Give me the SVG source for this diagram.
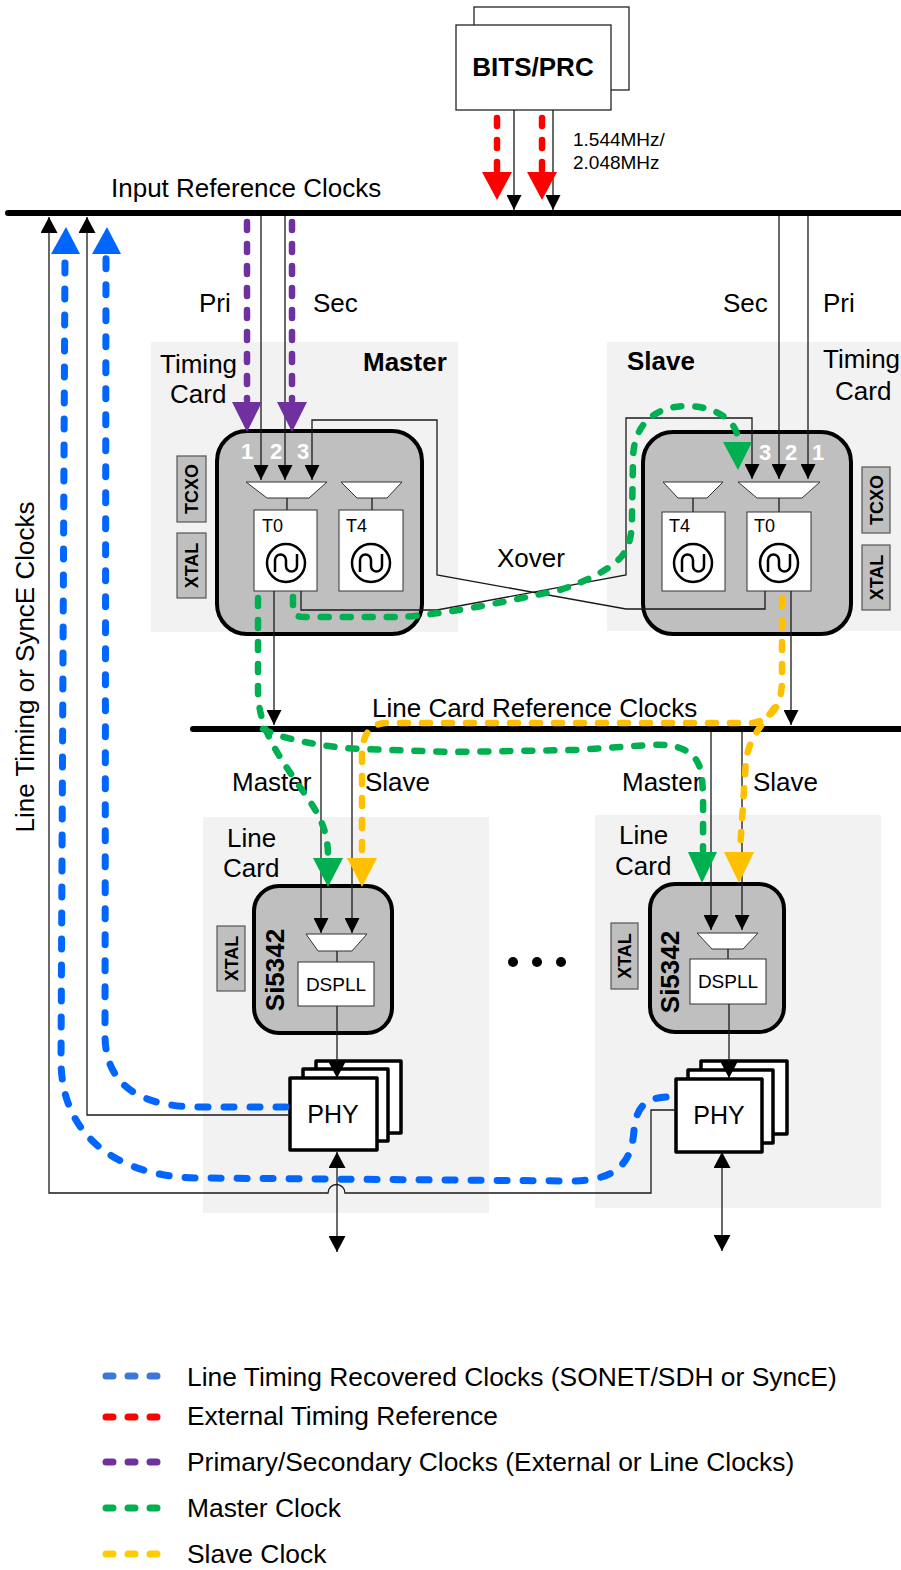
<svg xmlns="http://www.w3.org/2000/svg" width="901" height="1570" viewBox="0 0 901 1570">
<style>
.t{font-family:'Liberation Sans',Arial,Helvetica,sans-serif;fill:#000}
.l26{font-size:26px}
.lg{font-size:26.4px}
.b{font-weight:bold}
.ln{stroke:#1a1a1a;stroke-width:1.3;fill:none}
.bus{stroke:#000;stroke-width:6;stroke-linecap:round;fill:none}
.d{fill:none;stroke-linecap:round;stroke-width:6.5;stroke-dasharray:8 14}
.db{fill:none;stroke-linecap:round;stroke-width:7;stroke-dasharray:10 16}
.blue{stroke:#0066ff}.red{stroke:#ff0000}.pur{stroke:#7030a0}.grn{stroke:#00b050}.yel{stroke:#ffc000}
.fblue{fill:#0066ff}.fred{fill:#ff0000}.fpur{fill:#7030a0}.fgrn{fill:#00b050}.fyel{fill:#ffc000}
.panel{fill:#f2f2f2}
.chip{fill:#bfbfbf;stroke:#000;stroke-width:4}
.mux{fill:#fff;stroke:#333;stroke-width:1}
.box{fill:#fff;stroke:#333;stroke-width:1}
.tag{fill:#bfbfbf;stroke:#555;stroke-width:1.2}
.phy{fill:#fff;stroke:#000;stroke-width:3.5;stroke-linejoin:round}
.oc{fill:none;stroke:#000;stroke-width:2.5}
.num{font-size:22px;font-weight:bold;fill:#fff}
.leg{stroke-width:7;stroke-linecap:round;stroke-dasharray:7 15;fill:none}
</style>
<defs>
<marker id="ah" markerWidth="15" markerHeight="15" refX="15" refY="7.5" orient="auto" markerUnits="userSpaceOnUse"><path d="M0,0 L15,7.5 L0,15 z" fill="#000"/></marker>
<marker id="ah2" markerWidth="16" markerHeight="17" refX="16" refY="8.5" orient="auto-start-reverse" markerUnits="userSpaceOnUse"><path d="M0,0 L16,8.5 L0,17 z" fill="#000"/></marker>
<g id="osc"><circle cx="0" cy="0" r="19" class="oc"/><path d="M-11,9 L-11,-3 A5.5,5.5 0 0 1 0,-3 L0,3 A5.5,5.5 0 0 0 11,3 L11,-9" class="oc"/></g>
</defs>
<rect x="0" y="0" width="901" height="1570" fill="#fff"/>

<g id="panels">
<rect class="panel" x="151" y="342" width="307" height="290"/>
<rect class="panel" x="607" y="342" width="294" height="289"/>
<rect class="panel" x="203" y="817" width="286" height="396"/>
<rect class="panel" x="595" y="815" width="286" height="393"/>
</g>

<g id="bits">
<rect x="474" y="7" width="155" height="83" fill="#fff" stroke="#222" stroke-width="1.3"/>
<rect x="456" y="25" width="155" height="85" fill="#fff" stroke="#222" stroke-width="1.3"/>
<text class="t l26 b" x="533" y="76" text-anchor="middle">BITS/PRC</text>
</g>

<g id="master">
<rect class="chip" x="217" y="431" width="205" height="203" rx="30"/>
<polygon class="mux" points="246,482 327,482 309,498 267,498"/>
<polygon class="mux" points="341,482 402,482 387,498 357,498"/>
<line class="ln" x1="287" y1="498" x2="287" y2="510"/>
<line class="ln" x1="372" y1="498" x2="372" y2="510"/>
<rect class="box" x="254" y="510" width="63" height="81"/>
<rect class="box" x="339" y="510" width="64" height="81"/>
<text class="t" x="262" y="532" font-size="18">T0</text>
<text class="t" x="346" y="532" font-size="18">T4</text>
<use href="#osc" x="286" y="563"/>
<use href="#osc" x="371" y="563"/>
<text class="t num" x="247" y="459" text-anchor="middle">1</text>
<text class="t num" x="276" y="459" text-anchor="middle">2</text>
<text class="t num" x="303" y="459" text-anchor="middle">3</text>
<rect class="tag" x="177" y="456" width="29" height="66"/>
<rect class="tag" x="177" y="533" width="29" height="65"/>
<text class="t b" font-size="18" transform="translate(191.5,489) rotate(-90)" x="0" y="6.5" text-anchor="middle">TCXO</text>
<text class="t b" font-size="18" transform="translate(191.5,565.5) rotate(-90)" x="0" y="6.5" text-anchor="middle">XTAL</text>
<text class="t l26" x="160" y="373">Timing</text>
<text class="t l26" x="170" y="403">Card</text>
<text class="t l26 b" x="363" y="371">Master</text>
</g>

<g id="slave">
<rect class="chip" x="643" y="432" width="208" height="202" rx="30"/>
<polygon class="mux" points="663,482 723,482 707,498 678,498"/>
<polygon class="mux" points="738,482 820,482 802,498 757,498"/>
<line class="ln" x1="693" y1="498" x2="693" y2="512"/>
<line class="ln" x1="779" y1="498" x2="779" y2="512"/>
<rect class="box" x="662" y="512" width="63" height="79"/>
<rect class="box" x="747" y="512" width="64" height="79"/>
<text class="t" x="669" y="532" font-size="18">T4</text>
<text class="t" x="754" y="532" font-size="18">T0</text>
<use href="#osc" x="693" y="563"/>
<use href="#osc" x="779" y="563"/>
<text class="t num" x="765" y="460" text-anchor="middle">3</text>
<text class="t num" x="791" y="460" text-anchor="middle">2</text>
<text class="t num" x="818" y="460" text-anchor="middle">1</text>
<rect class="tag" x="862" y="467" width="28" height="66"/>
<rect class="tag" x="862" y="545" width="28" height="65"/>
<text class="t b" font-size="18" transform="translate(876,500) rotate(-90)" x="0" y="6.5" text-anchor="middle">TCXO</text>
<text class="t b" font-size="18" transform="translate(876,577.5) rotate(-90)" x="0" y="6.5" text-anchor="middle">XTAL</text>
<text class="t l26" x="823" y="368">Timing</text>
<text class="t l26" x="835" y="400">Card</text>
<text class="t l26 b" x="627" y="370">Slave</text>
</g>

<g id="linecard-left">
<rect class="chip" x="254" y="886" width="138" height="147" rx="25"/>
<polygon class="mux" points="306,934 367,934 352,951 318,951"/>
<line class="ln" x1="337" y1="951" x2="337" y2="962"/>
<rect class="box" x="298" y="962" width="76" height="44"/>
<text class="t" x="336" y="991" font-size="19" text-anchor="middle">DSPLL</text>
<rect class="tag" x="217" y="926" width="28" height="65"/>
<text class="t b" font-size="18" transform="translate(231,958.5) rotate(-90)" x="0" y="6.5" text-anchor="middle">XTAL</text>
<text class="t b" font-size="26" transform="translate(275,970) rotate(-90)" x="0" y="9.3" text-anchor="middle">Si5342</text>
<text class="t l26" x="227" y="847">Line</text>
<text class="t l26" x="223" y="877">Card</text>
</g>

<g id="linecard-right">
<rect class="chip" x="650" y="884" width="134" height="148" rx="25"/>
<polygon class="mux" points="697,933 758,933 743,949 712,949"/>
<line class="ln" x1="728" y1="949" x2="728" y2="959"/>
<rect class="box" x="690" y="959" width="76" height="45"/>
<text class="t" x="728" y="988" font-size="19" text-anchor="middle">DSPLL</text>
<rect class="tag" x="611" y="923" width="27" height="66"/>
<text class="t b" font-size="18" transform="translate(624.5,956) rotate(-90)" x="0" y="6.5" text-anchor="middle">XTAL</text>
<text class="t b" font-size="26" transform="translate(670,972) rotate(-90)" x="0" y="9.3" text-anchor="middle">Si5342</text>
<text class="t l26" x="619" y="844">Line</text>
<text class="t l26" x="615" y="875">Card</text>
</g>

<g id="phy-left">
<rect class="phy" x="316" y="1061" width="85" height="72"/>
<rect class="phy" x="303" y="1069" width="85" height="72"/>
<rect class="phy" x="290" y="1078" width="87" height="72"/>
<text class="t" x="333" y="1123" font-size="25" text-anchor="middle">PHY</text>
</g>

<g id="phy-right">
<rect class="phy" x="701" y="1061" width="86" height="73"/>
<rect class="phy" x="688" y="1070" width="85" height="73"/>
<rect class="phy" x="676" y="1079" width="86" height="73"/>
<text class="t" x="719" y="1124" font-size="25" text-anchor="middle">PHY</text>
</g>

<g id="ellipsis" fill="#000">
<circle cx="513" cy="962" r="5"/><circle cx="537" cy="962" r="5"/><circle cx="561" cy="962" r="5"/>
</g>

<g id="labels">
<text class="t l26" x="111" y="197">Input Reference Clocks</text>
<text class="t" x="573" y="146" font-size="19">1.544MHz/</text>
<text class="t" x="573" y="169" font-size="19">2.048MHz</text>
<text class="t l26" x="199" y="312">Pri</text>
<text class="t l26" x="313" y="312">Sec</text>
<text class="t l26" x="723" y="312">Sec</text>
<text class="t l26" x="823" y="312">Pri</text>
<text class="t l26" x="497" y="567">Xover</text>
<text class="t l26" x="372" y="717">Line Card Reference Clocks</text>
<text class="t l26" x="232" y="791">Master</text>
<text class="t l26" x="365" y="791">Slave</text>
<text class="t l26" x="622" y="791">Master</text>
<text class="t l26" x="753" y="791">Slave</text>
<text class="t l26" transform="translate(34,667) rotate(-90)" x="0" y="0" text-anchor="middle">Line Timing or SyncE Clocks</text>
</g>

<g id="connectors">
<path class="ln" d="M514,110 V210" marker-end="url(#ah)"/>
<path class="ln" d="M553,110 V210" marker-end="url(#ah)"/>
<path class="ln" d="M261,216 V480" marker-end="url(#ah)"/>
<path class="ln" d="M285,216 V480" marker-end="url(#ah)"/>
<path class="ln" d="M765,591 V609 H626 L437,575 V420 H312 V480" marker-end="url(#ah)"/>
<path class="ln" d="M779,216 V479" marker-end="url(#ah)"/>
<path class="ln" d="M808,216 V479" marker-end="url(#ah)"/>
<path class="ln" d="M301,591 V610 H437 L626,575 V418 H752 V479" marker-end="url(#ah)"/>
<path class="ln" d="M274,591 V725" marker-end="url(#ah)"/>
<path class="ln" d="M791,591 V725" marker-end="url(#ah)"/>
<path class="ln" d="M321,729 V933" marker-end="url(#ah)"/>
<path class="ln" d="M352,729 V933" marker-end="url(#ah)"/>
<path class="ln" d="M711,729 V930" marker-end="url(#ah)"/>
<path class="ln" d="M742,729 V930" marker-end="url(#ah)"/>
<path class="ln" d="M337,1006 V1078" marker-end="url(#ah2)"/>
<path class="ln" d="M729,1004 V1078" marker-end="url(#ah2)"/>
<path class="ln" d="M337,1152 V1252" marker-start="url(#ah2)" marker-end="url(#ah2)"/>
<path class="ln" d="M722,1152 V1251" marker-start="url(#ah2)" marker-end="url(#ah2)"/>
<path class="ln" d="M290,1115 H87 V217" marker-end="url(#ah2)"/>
<path class="ln" d="M676,1110 H651 V1193 H345 A8.5,8.5 0 0 0 328,1193 H49 V217" marker-end="url(#ah2)"/>

<path class="bus" d="M8,213 H904"/>
<path class="bus" d="M193,729 H904"/>

<path class="d red" d="M497,118 V170"/>
<path class="d red" d="M542,118 V170"/>
<polygon class="fred" points="482,172 512,172 497,200"/>
<polygon class="fred" points="527,172 557,172 542,200"/>

<path class="d pur" d="M247,222 V400"/>
<path class="d pur" d="M292,222 V400"/>
<polygon class="fpur" points="232,402 262,402 247,432"/>
<polygon class="fpur" points="277,402 307,402 292,432"/>

<path class="db blue" d="M286,1107 L200,1107 C140,1107 105,1085 105,1035 L106,256"/>
<path class="db blue" d="M666,1097 C645,1098 636,1108 634,1130 C632,1160 620,1181 570,1181 L200,1178 C130,1178 61,1145 61,1060 L65,256"/>
<polygon class="fblue" points="51,254 80,254 66,227"/>
<polygon class="fblue" points="92,254 121,254 107,227"/>

<path class="d grn" d="M293,597 L293,608 C293,615 297,617 305,617 L400,617 C440,615 500,603 560,590 C590,580 612,568 622,556 C630,545 632,535 632,515 L633,460 C633,420 660,405 690,406 C715,407 737,420 738,440"/>
<polygon class="fgrn" points="723,442 752,442 738,470"/>
<path class="d grn" d="M258,598 L258,690 C258,725 275,750 295,780 C315,808 328,825 328,856"/>
<path class="d grn" d="M263,729 C280,738 320,747 360,749 L450,752 L575,750 L650,745 C680,743 695,752 700,768 C704,785 703,800 703,850"/>
<polygon class="fgrn" points="313,858 343,858 328,887"/>
<polygon class="fgrn" points="688,852 717,852 702,883"/>

<path class="d yel" d="M782,598 L782,680 C782,705 772,720 752,723 L385,723 C370,724 362,735 362,755 L362,856"/>
<path class="d yel" d="M774,708 C765,722 750,735 746,760 L740,850"/>
<polygon class="fyel" points="347,858 377,858 362,887"/>
<polygon class="fyel" points="724,852 754,852 739,883"/>
</g>

<g id="legend">
<line class="leg" x1="106" y1="1376" x2="157" y2="1376" stroke="#3c78d8"/>
<line class="leg" x1="106" y1="1417" x2="157" y2="1417" stroke="#ff0000"/>
<line class="leg" x1="106" y1="1462" x2="157" y2="1462" stroke="#7030a0"/>
<line class="leg" x1="106" y1="1508" x2="157" y2="1508" stroke="#00b050"/>
<line class="leg" x1="106" y1="1554" x2="157" y2="1554" stroke="#ffcc00"/>
<text class="t lg" x="187" y="1386">Line Timing Recovered Clocks (SONET/SDH or SyncE)</text>
<text class="t lg" x="187" y="1425">External Timing Reference</text>
<text class="t lg" x="187" y="1471">Primary/Secondary Clocks (External or Line Clocks)</text>
<text class="t lg" x="187" y="1517">Master Clock</text>
<text class="t lg" x="187" y="1563">Slave Clock</text>
</g>
</svg>
